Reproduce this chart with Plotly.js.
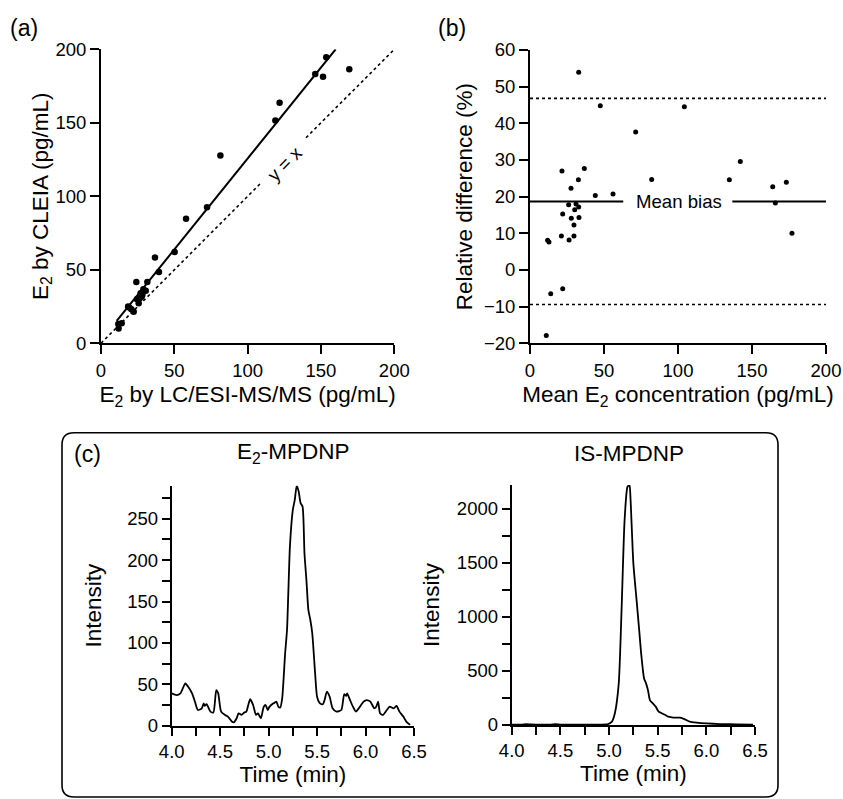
<!DOCTYPE html>
<html>
<head>
<meta charset="utf-8">
<script src="https://cdn.plot.ly/plotly-3.0.1.min.js"></script>
<style>html,body{margin:0;padding:0;background:#fff}#chart{width:843px;height:799px}</style>
</head>
<body>
<div id="chart"></div>
<script>
// ---------- Data ----------
// (a) method comparison
const a_lcms  = [153.6,146.1,151.4,169.3,121.8,118.9,81.4,72.3,58.0,50.2,36.8,39.5,24.1,31.6,28.9,30.5,28.2,24.5,26.4,25.7,19.3,20.7,22.3,11.8,14.1,12.0,27.7,27.0,18.5];
const a_cleia = [194.6,183.2,181.4,186.4,163.7,151.5,127.7,92.5,84.8,62.1,58.3,48.5,41.7,41.7,36.7,35.8,32.9,29.9,30.6,27.2,24.3,23.1,21.5,13.2,13.6,10.0,31.7,34.0,25.0];
const fit_x = [10.7, 160];
const fit_y = [15.2, 200];
const identity_x = [0, 108.4, null, 139.8, 200];
const identity_y = [0, 108.4, null, 139.8, 200];
// (b) Bland-Altman
const b_mean = [32.9,47.5,104.3,71.4,142.1,134.7,82.2,36.7,21.6,32.7,27.7,44.1,56.1,164.0,173.2,165.8,177.0,26.1,31.1,32.9,30.2,22.1,27.9,33.1,29.7,21.2,26.4,29.7,11.9,12.8,14.0,22.1,11.0];
const b_diff = [53.9,44.8,44.5,37.6,29.6,24.6,24.7,27.7,27.0,24.6,22.3,20.3,20.7,22.7,23.9,18.3,10.0,17.8,18.0,17.2,16.4,15.3,14.1,14.3,12.3,9.3,8.2,9.3,8.1,7.6,-6.5,-5.1,-17.9];
const meanBias = 18.7;
const upperLoA = 46.8;
const lowerLoA = -9.4;
const biasGap = [63, 136.7];
// (c) chromatograms
const e2_time = [4.00,4.05,4.09,4.14,4.17,4.21,4.24,4.27,4.31,4.33,4.34,4.36,4.40,4.43,4.46,4.48,4.51,4.55,4.58,4.62,4.64,4.67,4.69,4.72,4.75,4.77,4.79,4.81,4.84,4.87,4.89,4.92,4.95,4.97,4.99,5.01,5.05,5.08,5.10,5.12,5.14,5.17,5.19,5.22,5.25,5.27,5.29,5.31,5.33,5.35,5.37,5.39,5.41,5.43,5.45,5.48,5.50,5.53,5.56,5.58,5.60,5.63,5.66,5.70,5.75,5.78,5.80,5.81,5.84,5.87,5.90,5.93,5.98,6.01,6.05,6.09,6.11,6.13,6.15,6.18,6.22,6.25,6.29,6.32,6.35,6.39,6.42,6.46];
const e2_int  = [39,37,39,51,47,39,29,19,21,27,24,26,17,16,43,39,17,13,11,5,4,9,15,13,16,17,25,32,25,13,15,9,23,25,19,23,27,29,23,22,33,87,116,217,261,273,290,283,269,265,208,176,140,128,112,63,35,27,26,32,41,35,21,17,19,38,36,39,31,23,17,21,29,31,29,21,23,29,15,13,19,23,21,24,17,11,5,1];
const is_time = [4.00,4.10,4.15,4.20,4.30,4.40,4.45,4.50,4.60,4.70,4.80,4.90,4.99,5.03,5.06,5.10,5.13,5.16,5.19,5.21,5.22,5.25,5.28,5.31,5.33,5.36,5.38,5.40,5.42,5.45,5.48,5.51,5.58,5.61,5.66,5.73,5.78,5.83,5.90,6.00,6.14,6.31,6.48];
const is_int  = [3,4,8,5,3,4,7,4,3,3,3,4,9,31,108,385,1094,1895,2204,2219,2111,1495,1187,878,663,431,385,324,231,200,170,123,92,77,68,68,52,31,22,15,9,6,3];
const xTicksAB = [0,50,100,150,200];
const yTicksA = [0,50,100,150,200];
const yTicksB = [-20,-10,0,10,20,30,40,50,60];
const tTicks = [4.0,4.5,5.0,5.5,6.0,6.5];
const yTicksE2 = [0,50,100,150,200,250];
const yTicksIS = [0,500,1000,1500,2000];

// ---------- Layout helpers ----------
const W = 843, H = 799;
const fx = p => p / W;
const fy = p => 1 - p / H;
const FONT = 'Liberation Sans, Arial, Helvetica, sans-serif';
const black = '#000';
const TICK = {family: FONT, size: 18.5, color: black};
const TITLE = {family: FONT, size: 22.5, color: black};

function axis(extra) {
  return Object.assign({
    showline: true, linecolor: black, linewidth: 2,
    ticks: 'outside', ticklen: 9, tickwidth: 2, tickcolor: black,
    showgrid: false, zeroline: false, fixedrange: true,
    tickfont: TICK, automargin: false
  }, extra);
}

const traces = [
  // (a)
  {x: identity_x, y: identity_y, xaxis: 'x', yaxis: 'y', mode: 'lines',
   line: {color: black, width: 1.6, dash: 'dot'}, hoverinfo: 'skip'},
  {x: fit_x, y: fit_y, xaxis: 'x', yaxis: 'y', mode: 'lines',
   line: {color: black, width: 2}, hoverinfo: 'skip'},
  {x: a_lcms, y: a_cleia, xaxis: 'x', yaxis: 'y', mode: 'markers',
   marker: {color: black, size: 6.5}},
  // (b)
  {x: [0, 200], y: [upperLoA, upperLoA], xaxis: 'x2', yaxis: 'y2', mode: 'lines',
   line: {color: black, width: 1.6, dash: 'dot'}, hoverinfo: 'skip'},
  {x: [0, 200], y: [lowerLoA, lowerLoA], xaxis: 'x2', yaxis: 'y2', mode: 'lines',
   line: {color: black, width: 1.6, dash: 'dot'}, hoverinfo: 'skip'},
  {x: [0, biasGap[0], null, biasGap[1], 200], y: [meanBias, meanBias, null, meanBias, meanBias],
   xaxis: 'x2', yaxis: 'y2', mode: 'lines', line: {color: black, width: 2}, hoverinfo: 'skip'},
  {x: b_mean, y: b_diff, xaxis: 'x2', yaxis: 'y2', mode: 'markers',
   marker: {color: black, size: 5}},
  // (c)
  {x: e2_time, y: e2_int, xaxis: 'x3', yaxis: 'y3', mode: 'lines',
   line: {color: black, width: 1.8, shape: 'spline', smoothing: 0.6}},
  {x: is_time, y: is_int, xaxis: 'x4', yaxis: 'y4', mode: 'lines',
   line: {color: black, width: 1.8, shape: 'spline', smoothing: 0.6}}
];

const minorX = {dtick: 0.25, tick0: 4, ticks: 'outside', ticklen: 8, tickwidth: 2, tickcolor: black};
const layout = {
  width: W, height: H,
  margin: {l: 0, r: 0, t: 0, b: 0},
  paper_bgcolor: '#fff', plot_bgcolor: 'rgba(0,0,0,0)',
  showlegend: false,
  font: {family: FONT, color: black},
  xaxis: axis({domain: [fx(101), fx(394.3)], range: [0, 200], anchor: 'y',
    tickvals: xTicksAB, title: {text: 'E<sub>2</sub> by LC/ESI-MS/MS (pg/mL)', font: TITLE, standoff: 7}}),
  yaxis: axis({domain: [fy(343.3), fy(49.3)], range: [0, 200], anchor: 'x',
    tickvals: yTicksA, title: {text: 'E<sub>2</sub> by CLEIA (pg/mL)', font: TITLE, standoff: 0}}),
  xaxis2: axis({domain: [fx(530), fx(826)], range: [0, 200], anchor: 'y2',
    tickvals: xTicksAB, title: {text: 'Mean E<sub>2</sub> concentration (pg/mL)', font: TITLE, standoff: 7}}),
  yaxis2: axis({domain: [fy(343.3), fy(50)], range: [-20, 60], anchor: 'x2',
    tickvals: yTicksB, title: {text: 'Relative difference (%)', font: TITLE, standoff: 5}}),
  xaxis3: axis({domain: [fx(171.7), fx(414)], range: [4, 6.5], anchor: 'y3',
    tickvals: tTicks, tickformat: '.1f', ticklen: 8, minor: minorX,
    title: {text: 'Time (min)', font: TITLE, standoff: 3}}),
  yaxis3: axis({domain: [fy(725.7), fy(485.7)], range: [0, 290], anchor: 'x3',
    tickvals: yTicksE2, ticklen: 8,
    minor: {dtick: 25, tick0: 0, ticks: 'outside', ticklen: 8, tickwidth: 2, tickcolor: black},
    title: {text: 'Intensity', font: TITLE, standoff: 19}}),
  xaxis4: axis({domain: [fx(511.7), fx(755)], range: [4, 6.5], anchor: 'y4',
    tickvals: tTicks, tickformat: '.1f', ticklen: 8, minor: minorX,
    title: {text: 'Time (min)', font: TITLE, standoff: 3}}),
  yaxis4: axis({domain: [fy(725), fy(485)], range: [0, 2220], anchor: 'x4',
    tickvals: yTicksIS, ticklen: 8,
    minor: {dtick: 250, tick0: 0, ticks: 'outside', ticklen: 8, tickwidth: 2, tickcolor: black},
    title: {text: 'Intensity', font: TITLE, standoff: 11}}),
  annotations: [
    {text: '(a)', xref: 'paper', yref: 'paper', x: fx(24), y: fy(28), xanchor: 'center', yanchor: 'middle', showarrow: false, font: {family: FONT, size: 23}},
    {text: '(b)', xref: 'paper', yref: 'paper', x: fx(452), y: fy(28), xanchor: 'center', yanchor: 'middle', showarrow: false, font: {family: FONT, size: 23}},
    {text: '(c)', xref: 'paper', yref: 'paper', x: fx(87), y: fy(454), xanchor: 'center', yanchor: 'middle', showarrow: false, font: {family: FONT, size: 23}},
    {text: 'y = x', xref: 'x', yref: 'y', x: 125.5, y: 122, xanchor: 'center', yanchor: 'middle', showarrow: false, textangle: -45, font: {family: FONT, size: 18.5}},
    {text: 'Mean bias', xref: 'x2', yref: 'y2', x: 100.5, y: meanBias, xanchor: 'center', yanchor: 'middle', showarrow: false, font: {family: FONT, size: 18.6}},
    {text: 'E<sub>2</sub>-MPDNP', xref: 'paper', yref: 'paper', x: fx(293), y: fy(453), xanchor: 'center', yanchor: 'middle', showarrow: false, font: TITLE},
    {text: 'IS-MPDNP', xref: 'paper', yref: 'paper', x: fx(629), y: fy(453), xanchor: 'center', yanchor: 'middle', showarrow: false, font: TITLE}
  ],
  shapes: [
    (function () {
      const l = fx(62), r = fx(778), t = fy(432.7), b = fy(797);
      const rx = 12 / W, ry = 12 / H;
      return {type: 'path', xref: 'paper', yref: 'paper',
        path: `M ${l + rx} ${t} L ${r - rx} ${t} Q ${r} ${t} ${r} ${t - ry} L ${r} ${b + ry} Q ${r} ${b} ${r - rx} ${b} L ${l + rx} ${b} Q ${l} ${b} ${l} ${b + ry} L ${l} ${t - ry} Q ${l} ${t} ${l + rx} ${t} Z`,
        line: {color: black, width: 1.6}, fillcolor: 'rgba(0,0,0,0)'};
    })()
  ]
};

Plotly.newPlot('chart', traces, layout, {displayModeBar: false, staticPlot: true});
</script>
</body>
</html>
